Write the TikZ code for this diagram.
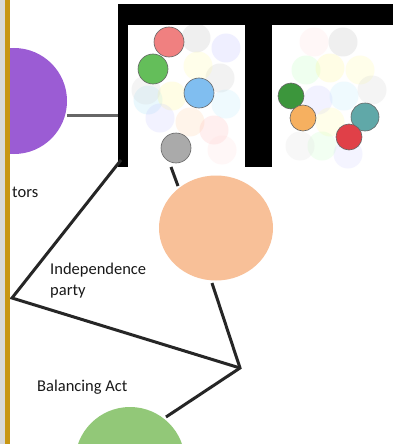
\documentclass[tikz,border=0pt]{standalone}
\usepackage{fontspec}
\setmainfont{Carlito}
\usetikzlibrary{shapes.geometric}
\definecolor{purp}{RGB}{155,92,212}
\definecolor{peach}{RGB}{248,192,152}
\definecolor{leaf}{RGB}{146,200,120}
\definecolor{gold}{RGB}{200,150,20}
\definecolor{mrose}{RGB}{240,128,128}
\definecolor{mgreen}{RGB}{100,190,90}
\definecolor{mblue}{RGB}{128,190,240}
\definecolor{mgray}{RGB}{170,170,170}
\definecolor{mdkgreen}{RGB}{60,150,60}
\definecolor{morange}{RGB}{246,176,96}
\definecolor{mteal}{RGB}{96,168,168}
\definecolor{mred}{RGB}{224,64,72}
\begin{document}
\begin{tikzpicture}[x=1pt,y=-1pt,
  link/.style={line width=3pt,draw=black!85},
  faint/.style={circle,minimum size=29pt,inner sep=0pt,fill=#1,opacity=0.2},
  dot/.style={circle,minimum size=30pt,inner sep=0pt,fill=#1,draw=black!60,line width=0.6pt},
  lbl/.style={font=\fontsize{16.5}{21}\selectfont,text=black!90,align=left,inner sep=0pt,anchor=west}]
\useasboundingbox (0,0) rectangle (396,444);
\fill[white] (0,0) rectangle (396,444);

% large discs
\begin{scope}
  \clip (10,0) rectangle (396,444);
  \node[circle,fill=purp,minimum size=106pt,inner sep=0pt] (purple) at (14,101) {};
  \node[circle,fill=leaf,minimum size=110pt,inner sep=0pt] (green) at (130,462) {};
\end{scope}
\node[ellipse,fill=peach,minimum width=114pt,minimum height=105pt,inner sep=0pt] (peach) at (216,228) {};

% faint background marbles, left bay
\foreach \x/\y/\c in {196/38/gray!60,226/48/blue!30,148/100/cyan!40,172/96/yellow!50,
  220/78/gray!50,160/118/blue!25,190/122/orange!40,214/130/red!30,226/104/cyan!30,
  198/66/yellow!40,146/90/gray!40,222/150/pink!60}
  \node[faint=\c] at (\x,\y) {};
% faint background marbles, right bay
\foreach \x/\y/\c in {314/42/pink!60,343/42/gray!60,306/70/green!30,330/68/yellow!50,
  360/70/yellow!40,372/90/gray!40,318/100/blue!25,344/96/cyan!30,330/122/yellow!40,
  322/146/green!25,348/154/blue!20,300/146/gray!30}
  \node[faint=\c] at (\x,\y) {};

% highlighted marbles
\node[dot=mrose] (m1) at (169,42) {};
\node[dot=mgreen] (m2) at (153,69) {};
\node[dot=mblue] (m3) at (199,93) {};
\node[dot=mgray] (m4) at (176,148) {};
\node[dot=mdkgreen,minimum size=26pt] (m5) at (291,96) {};
\node[dot=morange,minimum size=26pt] (m6) at (303,118) {};
\node[dot=mteal,minimum size=28pt] (m7) at (365,117) {};
\node[dot=mred,minimum size=26pt] (m8) at (349,137) {};

% black frame
\fill[black] (118,4) rectangle (393,25);
\fill[black] (118,4) rectangle (128,167);
\fill[black] (245,4) rectangle (272,167);

% anchor points of the connectors
\coordinate (frameL) at (118,115);
\coordinate (frame) at (121,160);
\coordinate (left) at (12,298);
\coordinate (mid) at (240,368);
\coordinate (m4b) at (171,167);
\coordinate (pk) at (178,186);
\coordinate (pb) at (212,283);
\coordinate (gt) at (166,417);

% connectors
\draw[line width=3pt,draw=black!60] (purple.east |- frameL) -- (frameL);
\draw[link] (frame) -- (left) -- (mid);
\draw[link] (m4b) -- (pk);
\draw[link] (pb) -- (mid) -- (gt);

% labels
\node[lbl] (ind) at (50,281) {Independence\\party};
\node[lbl] (bal) at (37,387) {Balancing Act};
\node[lbl] (ators) at (12,192) {tors};

% left border
\fill[black!15] (0,0) rectangle (5,444);
\fill[gold] (5,0) rectangle (10,444);
\end{tikzpicture}
\end{document}
